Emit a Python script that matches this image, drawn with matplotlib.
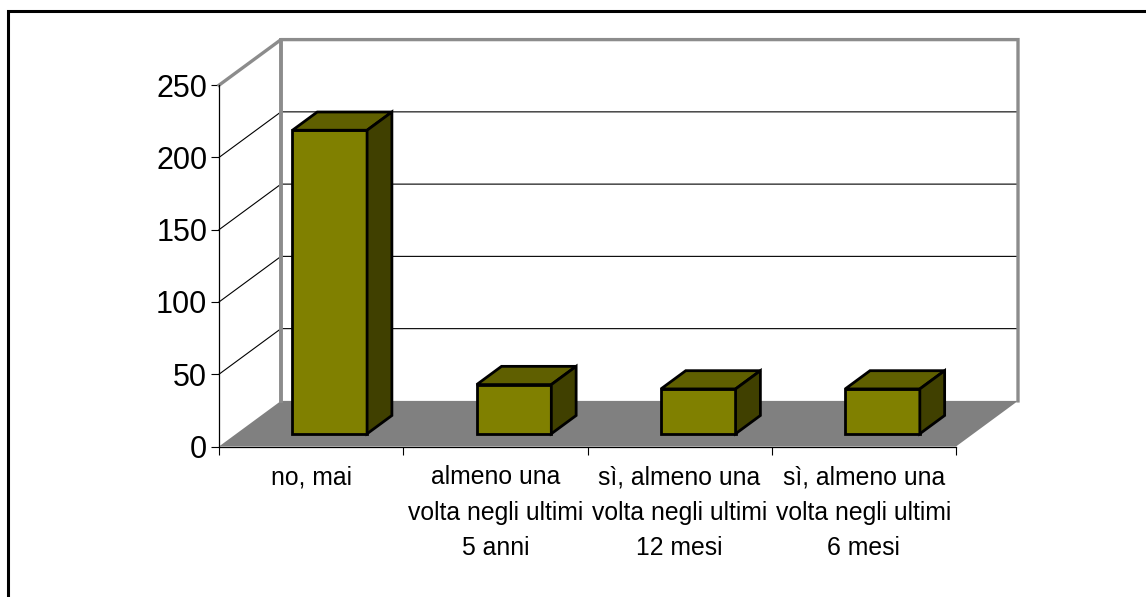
import numpy as np
import matplotlib
matplotlib.use('Agg')
import matplotlib.pyplot as plt
from matplotlib.lines import Line2D
from matplotlib.patches import Polygon

plt.rcParams['font.family'] = ['Liberation Sans', 'DejaVu Sans']

categories = ['no, mai',
              'almeno una\nvolta negli ultimi\n5 anni',
              'sì, almeno una\nvolta negli ultimi\n12 mesi',
              'sì, almeno una\nvolta negli ultimi\n6 mesi']
values = [210, 34, 31, 31]
y_ticks = [0, 50, 100, 150, 200, 250]

W, H = 1146, 597
x0, x1 = 219, 956  # front edge of the floor, pixels
y0, y1 = 446.5, 85.2

fig = plt.figure(figsize=(W / 100, H / 100), dpi=100)
ax = fig.add_axes([x0 / W, 1 - y0 / H, (x1 - x0) / W, (y0 - y1) / H])
ax.set_xlim(0, len(categories))
ax.set_ylim(0, 250)
ax.patch.set_visible(False)

# depth of the box, in data units
dx = 62.0 / ((x1 - x0) / len(categories))
dy = 45.6 / ((y0 - y1) / 250)


def at(x, v, d=0.0):
    # point at depth d (0 front, 1 back wall)
    return (x + d * dx, v + d * dy)


def poly(pts, **kw):
    ax.add_patch(Polygon(pts, closed=True, clip_on=False, **kw))


n = len(categories)
wall_grey = '#8c8c8c'

# floor
poly([at(0, 0), at(n, 0), at(n, 0, 1), at(0, 0, 1)], facecolor='#808080', edgecolor='none', zorder=1)

# gridlines on the side and back walls
for v in y_ticks[1:-1]:
    ax.plot(*zip(at(0, v), at(0, v, 1), at(n, v, 1)), color='black', lw=0.8, clip_on=False, zorder=2)

# wall outline
ax.plot(*zip(at(0, 250), at(0, 250, 1), at(n, 250, 1), at(n, 0, 1)),
        color=wall_grey, lw=2.4, clip_on=False, zorder=2, solid_joinstyle='miter')
ax.plot(*zip(at(0, 0, 1), at(0, 250, 1)), color=wall_grey, lw=2.8, clip_on=False, zorder=2)

# bars
bar_w = 0.405
d_front, d_back = 0.28, 0.68
for i, v in enumerate(values):
    l = i + 0.507 - bar_w / 2
    r = l + bar_w
    st = dict(edgecolor='black', lw=2.0, zorder=4, joinstyle='miter')
    poly([at(l, 0, d_front), at(r, 0, d_front), at(r, v, d_front), at(l, v, d_front)], facecolor='#808000', **st)
    poly([at(l, v, d_front), at(r, v, d_front), at(r, v, d_back), at(l, v, d_back)], facecolor='#5f5f00', **st)
    poly([at(r, 0, d_front), at(r, 0, d_back), at(r, v, d_back), at(r, v, d_front)], facecolor='#404000', **st)

# axes
for s in ['top', 'right']:
    ax.spines[s].set_visible(False)
ax.spines['left'].set_linewidth(0.9)
ax.spines['bottom'].set_linewidth(0.9)
ax.spines['left'].set_zorder(5)
ax.spines['bottom'].set_zorder(5)

ax.set_yticks(y_ticks)
ax.tick_params(axis='y', labelsize=22, length=5.5, width=0.8, pad=3)
ax.set_xticks(np.arange(n + 1))
ax.set_xticklabels([])
ax.tick_params(axis='x', which='major', length=5.5, width=0.8)
ax.set_xticks(np.arange(n) + 0.5, minor=True)
ax.set_xticklabels(categories, minor=True, fontsize=17.8, linespacing=1.6, va='top')
ax.tick_params(axis='x', which='minor', length=0, pad=13.5)

# chart frame, only left and top are in the crop
fig.add_artist(Line2D([7.5 / W, 7.5 / W, 1], [0, 1 - 11 / H, 1 - 11 / H], color='black', lw=2.2,
                      transform=fig.transFigure, solid_joinstyle='miter'))

fig.savefig('out.png', dpi=100)
